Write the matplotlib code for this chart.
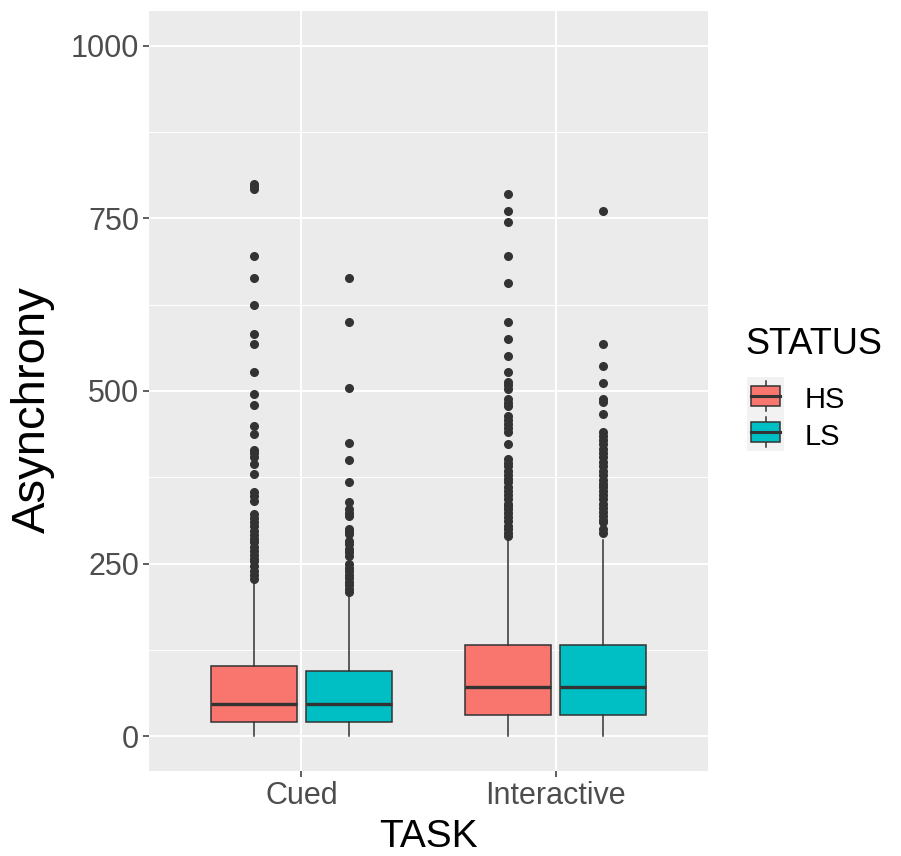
import matplotlib
matplotlib.use("Agg")
import matplotlib.pyplot as plt
from matplotlib.patches import Patch, Rectangle
from matplotlib.lines import Line2D
from matplotlib.legend_handler import HandlerBase

plt.rcParams['font.family'] = ['Liberation Sans', 'DejaVu Sans']

tasks = ['Cued', 'Interactive']
groups = ['HS', 'LS']
colors = {'HS': '#F8766D', 'LS': '#00BFC4'}

# box summaries per task/group: lower whisker, q1, median, q3, upper whisker
whislo = {'Cued': [0, 0], 'Interactive': [0, 0]}
q1 = {'Cued': [21, 21], 'Interactive': [31, 31]}
med = {'Cued': [47, 47], 'Interactive': [72, 72]}
q3 = {'Cued': [102, 95], 'Interactive': [133, 133]}
whishi = {'Cued': [222, 205], 'Interactive': [284, 284]}

fliers_cued_hs = [800, 796, 793, 695, 663, 624, 583, 568, 527, 495, 480, 449, 438,
                  415, 410, 405, 394, 380, 354, 348, 341, 322, 316, 310, 304, 298,
                  292, 286, 281, 274, 268, 262, 257, 254, 246, 240, 234, 228]
fliers_cued_ls = [663, 600, 504, 425, 400, 368, 339, 329, 324, 319, 300, 296, 293,
                  283, 278, 272, 267, 261, 249, 244, 239, 234, 229, 224, 219, 214, 209]
fliers_int_hs = [785, 761, 744, 695, 656, 600, 575, 551, 527, 513, 508, 503, 488,
                 483, 478, 464, 458, 452, 446, 440, 424, 401, 396, 391, 384, 378,
                 373, 368, 361, 355, 349, 343, 337, 333, 329, 323, 318, 312, 305,
                 300, 295, 290]
fliers_int_ls = [761, 568, 536, 512, 488, 484, 467, 441, 435, 429, 423, 416, 410,
                 404, 397, 391, 384, 378, 371, 365, 361, 355, 349, 343, 337, 331,
                 325, 319, 313, 310, 300, 295]
fliers = {'Cued': [fliers_cued_hs, fliers_cued_ls],
          'Interactive': [fliers_int_hs, fliers_int_ls]}

yticks = [0, 250, 500, 750, 1000]
yminor = [125, 375, 625, 875]

edge = '#333333'
panel_bg = '#EBEBEB'

fig = plt.figure(figsize=(9.01, 8.56), dpi=100)
ax = fig.add_axes([149 / 901, 1 - 771 / 856, 559 / 901, 760 / 856])
ax.set_facecolor(panel_bg)
for s in ax.spines.values():
    s.set_visible(False)

offsets = [-0.1875, 0.1875]
for i, task in enumerate(tasks):
    for j, g in enumerate(groups):
        stats = [dict(whislo=whislo[task][j], q1=q1[task][j], med=med[task][j],
                      q3=q3[task][j], whishi=whishi[task][j], fliers=fliers[task][j])]
        ax.bxp(stats, positions=[i + 1 + offsets[j]], widths=0.34,
               patch_artist=True, showcaps=False, manage_ticks=False,
               boxprops=dict(facecolor=colors[g], edgecolor=edge, linewidth=1.1),
               medianprops=dict(color=edge, linewidth=2.4, solid_capstyle='butt'),
               whiskerprops=dict(color=edge, linewidth=1.1),
               flierprops=dict(marker='o', markerfacecolor=edge, markeredgecolor=edge,
                               markersize=5.5),
               zorder=3)

ax.set_xlim(0.4, 2.6)
ax.set_ylim(-50, 1050)
ax.set_xticks([1, 2])
ax.set_xticklabels(tasks)
ax.set_yticks(yticks)
ax.set_yticklabels([str(v) for v in yticks])
ax.set_yticks(yminor, minor=True)
ax.grid(True, which='major', color='white', linewidth=1.4, zorder=0)
ax.grid(True, which='minor', axis='y', color='white', linewidth=0.7, zorder=0)
ax.set_axisbelow(True)
ax.tick_params(which='major', length=4, width=1.1, color=edge, labelsize=22,
               labelcolor='#4D4D4D', pad=3)
ax.tick_params(which='minor', length=0)

fig.text(33 / 901, 1 - 410 / 856, 'Asynchrony', rotation=90, fontsize=34,
         ha='center', va='center', color='black')
fig.text(428 / 901, 1 - 837 / 856, 'TASK', fontsize=28, ha='center',
         va='center', color='black')


class BoxKey(HandlerBase):
    # grey key square with a small boxplot glyph, filled with the group colour
    def create_artists(self, legend, orig_handle, xdescent, ydescent, width,
                       height, fontsize, trans):
        x0, y0 = -xdescent, -ydescent
        h = height + ydescent
        bg = Rectangle((x0, y0), width, h, facecolor='#F2F2F2',
                       edgecolor='none', transform=trans)
        cx = x0 + width / 2
        wl = Line2D([cx, cx], [y0 + 0.1 * h, y0 + 0.9 * h],
                    color=edge, linewidth=1.1, transform=trans)
        box = Rectangle((x0 + 0.12 * width, y0 + 0.23 * h), 0.78 * width,
                        0.53 * h, facecolor=orig_handle.get_facecolor(),
                        edgecolor=edge, linewidth=1.1, transform=trans)
        md = Line2D([x0 + 0.12 * width, x0 + 0.9 * width],
                    [y0 + 0.49 * h, y0 + 0.49 * h],
                    color=edge, linewidth=2.2, transform=trans)
        return [bg, wl, box, md]


handles = [Patch(facecolor=colors[g]) for g in groups]
fig.text(745 / 901, 1 - 345 / 856, 'STATUS', fontsize=26, ha='left',
         va='center', color='black')
fig.legend(handles, groups, handler_map={Patch: BoxKey()},
           loc='upper left', bbox_to_anchor=(747 / 901, 1 - 383 / 856),
           frameon=False, fontsize=21, borderpad=0, borderaxespad=0,
           handlelength=1.27, handleheight=1.27, handletextpad=0.72,
           labelspacing=0.17)

fig.savefig('out.png', dpi=100, facecolor='white')
